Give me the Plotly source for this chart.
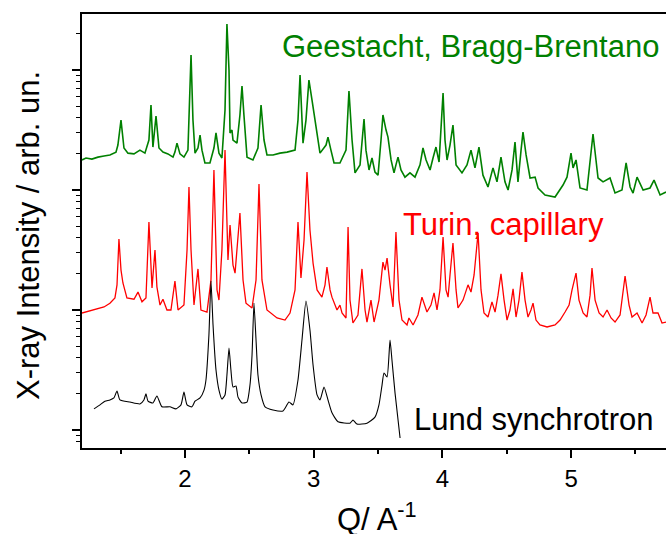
import plotly.graph_objects as go

# ---- Geestacht, Bragg-Brentano (green) ----
q_geestacht = [1.200,1.231,1.277,1.324,1.371,1.417,1.464,1.479,1.503,1.526,1.557,1.604,1.650,1.689,1.720,1.736,1.751,1.775,1.798,1.829,
               1.868,1.907,1.922,1.938,1.961,1.992,2.023,2.031,2.047,2.062,2.078,2.101,2.117,2.132,2.155,2.194,2.225,2.241,2.264,2.287,
               2.311,2.326,2.342,2.350,2.365,2.373,2.404,2.427,2.443,2.458,2.482,2.528,2.567,2.591,2.614,2.637,2.684,2.738,2.793,2.855,
               2.878,2.894,2.917,2.940,2.963,2.987,3.010,3.049,3.096,3.111,3.134,3.158,3.204,3.251,3.274,3.298,3.321,3.360,3.391,3.406,
               3.430,3.453,3.476,3.500,3.523,3.538,3.562,3.577,3.601,3.624,3.639,3.655,3.678,3.709,3.748,3.787,3.826,3.849,3.873,3.904,
               3.927,3.950,3.974,3.989,4.005,4.020,4.036,4.059,4.082,4.106,4.152,4.191,4.222,4.253,4.284,4.315,4.354,4.393,4.424,4.455,
               4.486,4.510,4.541,4.564,4.587,4.611,4.626,4.650,4.681,4.720,4.743,4.797,4.875,4.937,4.968,4.999,5.015,5.038,5.069,5.123,
               5.147,5.170,5.193,5.209,5.248,5.302,5.341,5.395,5.427,5.458,5.481,5.512,5.559,5.613,5.644,5.691,5.737]
i_geestacht = [178,185,181,188,192,196,207,237,383,224,203,200,215,203,261,511,228,414,224,207,
               200,188,207,246,200,188,215,383,1334,383,203,224,287,215,168,168,224,299,203,185,
               464,2417,1000,299,316,261,246,422,736,422,188,178,224,511,261,196,196,203,207,215,
               383,909,246,383,825,562,383,203,237,276,215,168,168,215,668,261,139,162,391,215,
               147,185,141,133,261,422,316,276,178,139,162,188,147,128,139,128,162,224,178,147,
               185,228,171,316,643,261,178,237,348,162,139,162,215,153,228,133,106,153,117,188,
               117,100,147,251,117,215,304,196,126,128,104,90.9,87.4,110,128,203,153,178,104,100,
               178,293,178,126,117,126,94.4,100,168,106,94.4,128,100,104,121,90.9,96.2]

# ---- Turin, capillary (red) ----
q_turin = [1.200,1.277,1.371,1.417,1.456,1.472,1.487,1.503,1.518,1.549,1.604,1.635,1.666,1.697,1.720,1.744,1.767,1.782,1.806,1.829,
           1.860,1.891,1.922,1.946,1.992,2.016,2.031,2.047,2.070,2.101,2.124,2.171,2.202,2.225,2.249,2.264,2.287,2.311,2.334,2.350,
           2.373,2.389,2.427,2.451,2.474,2.521,2.552,2.575,2.598,2.637,2.715,2.777,2.816,2.855,2.878,2.901,2.925,2.948,2.971,2.995,
           3.026,3.064,3.088,3.103,3.127,3.142,3.181,3.204,3.220,3.251,3.267,3.282,3.305,3.344,3.375,3.399,3.414,3.445,3.469,3.507,
           3.538,3.554,3.570,3.593,3.616,3.639,3.663,3.686,3.725,3.740,3.772,3.810,3.841,3.880,3.911,3.935,3.958,3.981,4.005,4.028,
           4.044,4.059,4.082,4.106,4.121,4.160,4.199,4.222,4.246,4.277,4.300,4.323,4.354,4.385,4.409,4.432,4.455,4.479,4.502,4.525,
           4.549,4.572,4.595,4.618,4.642,4.665,4.688,4.704,4.727,4.758,4.813,4.875,4.914,4.953,4.984,5.007,5.038,5.061,5.093,5.123,
           5.147,5.162,5.186,5.217,5.248,5.279,5.310,5.341,5.380,5.419,5.450,5.473,5.512,5.551,5.582,5.613,5.636,5.675,5.706,5.737]
i_turin = [9.44,10.0,10.6,11.4,12.6,16.2,39.1,21.5,16.8,12.6,12.3,14.1,11.7,12.6,54.1,15.3,31.6,15.6,11.0,12.3,
           10.0,10.0,17.4,10.0,11.0,31.6,106,31.6,11.0,22.0,10.0,9.62,17.8,147,14.7,12.1,31.6,215,26.1,51.1,
           23.7,20.3,64.3,17.8,11.4,10.4,17.8,112,17.8,10.0,8.58,8.25,9.44,14.7,54.1,18.5,38.3,141,46.4,24.6,
           14.7,12.8,16.2,22.8,14.7,12.8,10.0,11.0,9.44,8.58,49.2,12.1,7.79,9.09,22.0,10.0,7.94,12.1,7.94,12.1,
           25.1,21.5,27.1,16.2,10.6,44.7,12.1,8.25,7.50,8.58,7.50,9.09,12.8,9.62,11.0,13.9,10.0,14.7,40.6,14.7,
           12.8,19.6,36.2,14.7,10.4,12.1,16.2,14.1,19.6,43.8,14.7,9.44,8.74,11.7,9.62,13.3,20.0,12.1,8.25,10.0,
           15.0,8.74,12.1,20.7,12.1,8.74,10.0,11.4,8.25,7.50,7.22,7.50,8.25,9.62,11.0,14.7,20.3,12.1,9.44,8.74,
           13.3,22.4,12.1,9.44,8.74,10.0,8.58,7.94,9.09,19.2,11.0,8.74,9.44,7.79,9.09,12.8,9.44,9.44,7.79,7.94]

# ---- Lund synchrotron (black) ----
q_lund = [1.293,1.340,1.378,1.417,1.448,1.472,1.495,1.573,1.650,1.681,1.697,1.713,1.751,1.782,1.821,1.883,1.930,1.969,1.992,2.016,
          2.054,2.078,2.117,2.148,2.163,2.186,2.202,2.218,2.241,2.264,2.287,2.311,2.326,2.342,2.357,2.373,2.396,2.412,2.443,2.482,
          2.505,2.521,2.536,2.552,2.567,2.591,2.622,2.684,2.761,2.808,2.839,2.878,2.909,2.940,2.971,2.995,3.026,3.049,3.080,3.111,
          3.142,3.189,3.282,3.305,3.336,3.414,3.476,3.507,3.531,3.546,3.570,3.593,3.608,3.632,3.671]
i_lund = [1.50,1.62,1.74,1.78,1.85,2.11,1.78,1.71,1.65,1.78,2.00,1.74,1.68,1.92,1.56,1.56,1.50,1.62,2.07,1.62,
          1.56,1.74,1.85,2.15,2.61,6.19,17.4,7.50,3.16,2.15,1.81,1.96,2.87,4.82,3.16,2.28,2.33,1.88,1.68,1.71,
          2.37,4.22,11.4,5.62,2.87,1.96,1.56,1.47,1.44,1.71,1.62,2.61,5.62,11.9,6.81,3.48,1.96,1.78,2.28,1.78,
          1.39,1.17,1.14,1.21,1.12,1.14,1.28,1.62,2.37,2.99,2.77,5.62,3.83,2.03,0.858]

labels = ["Geestacht, Bragg-Brentano", "Turin, capillary", "Lund synchrotron"]
colors = ["#008000", "#ff0000", "#000000"]

x_ticks = [2, 3, 4, 5]
x_minor = [1.5, 2.5, 3.5, 4.5, 5.5]
y_major = [1, 10, 100, 1000]
y_minor = [m * 10 ** k for k in range(-1, 4) for m in range(2, 10)]

FONT = "Liberation Sans, Arial, sans-serif"

fig = go.Figure()
fig.add_trace(go.Scatter(x=q_geestacht, y=i_geestacht, mode="lines",
                         line=dict(color=colors[0], width=1.6), name=labels[0]))
fig.add_trace(go.Scatter(x=q_turin, y=i_turin, mode="lines",
                         line=dict(color=colors[1], width=1.3), name=labels[1]))
fig.add_trace(go.Scatter(x=q_lund, y=i_lund, mode="lines",
                         line=dict(color=colors[2], width=1.1, shape="spline", smoothing=0.5), name=labels[2]))

fig.update_layout(
    width=666, height=534,
    margin=dict(l=82, r=0, t=14, b=86),
    paper_bgcolor="white", plot_bgcolor="white",
    showlegend=False,
    font=dict(family=FONT, color="black"),
    xaxis=dict(range=[1.200, 5.737], showgrid=False, zeroline=False,
               showline=True, linecolor="black", linewidth=1.5, mirror=True,
               ticks="outside", ticklen=8, tickwidth=1.5, tickcolor="black",
               tickmode="array", tickvals=x_ticks, ticktext=[str(v) for v in x_ticks],
               tickfont=dict(size=24, family=FONT, color="black"),
               minor=dict(tickmode="array", tickvals=x_minor, ticks="outside",
                          ticklen=4, tickwidth=1.5, tickcolor="black")),
    yaxis=dict(type="log", range=[-0.15, 3.467], showgrid=False, zeroline=False,
               showline=True, linecolor="black", linewidth=1.5,
               ticks="outside", ticklen=8, tickwidth=1.5, tickcolor="black",
               tickmode="array", tickvals=y_major, showticklabels=False,
               minor=dict(tickmode="array", tickvals=y_minor, ticks="outside",
                          ticklen=4, tickwidth=1.2, tickcolor="black")),
)

ann = [
    dict(text=labels[0], x=0.339, y=0.9256, xanchor="left", yanchor="middle",
         font=dict(size=31, color=colors[0], family=FONT)),
    dict(text=labels[1], x=0.5462, y=0.5154, xanchor="left", yanchor="middle",
         font=dict(size=31, color=colors[1], family=FONT)),
    dict(text=labels[2], x=0.565, y=0.0661, xanchor="left", yanchor="middle",
         font=dict(size=31, color=colors[2], family=FONT)),
    dict(text="Q/ A<sup>-1</sup>", x=0.505, y=-0.158, xanchor="center", yanchor="middle",
         font=dict(size=31, color="black", family=FONT)),
    dict(text="X-ray Intensity / arb. un.", x=-0.0908, y=0.4908, xanchor="center", yanchor="middle",
         textangle=-90, font=dict(size=31, color="black", family=FONT)),
]
for a in ann:
    a.update(xref="paper", yref="paper", showarrow=False)
fig.update_layout(annotations=ann)

fig.write_html("out.html")
